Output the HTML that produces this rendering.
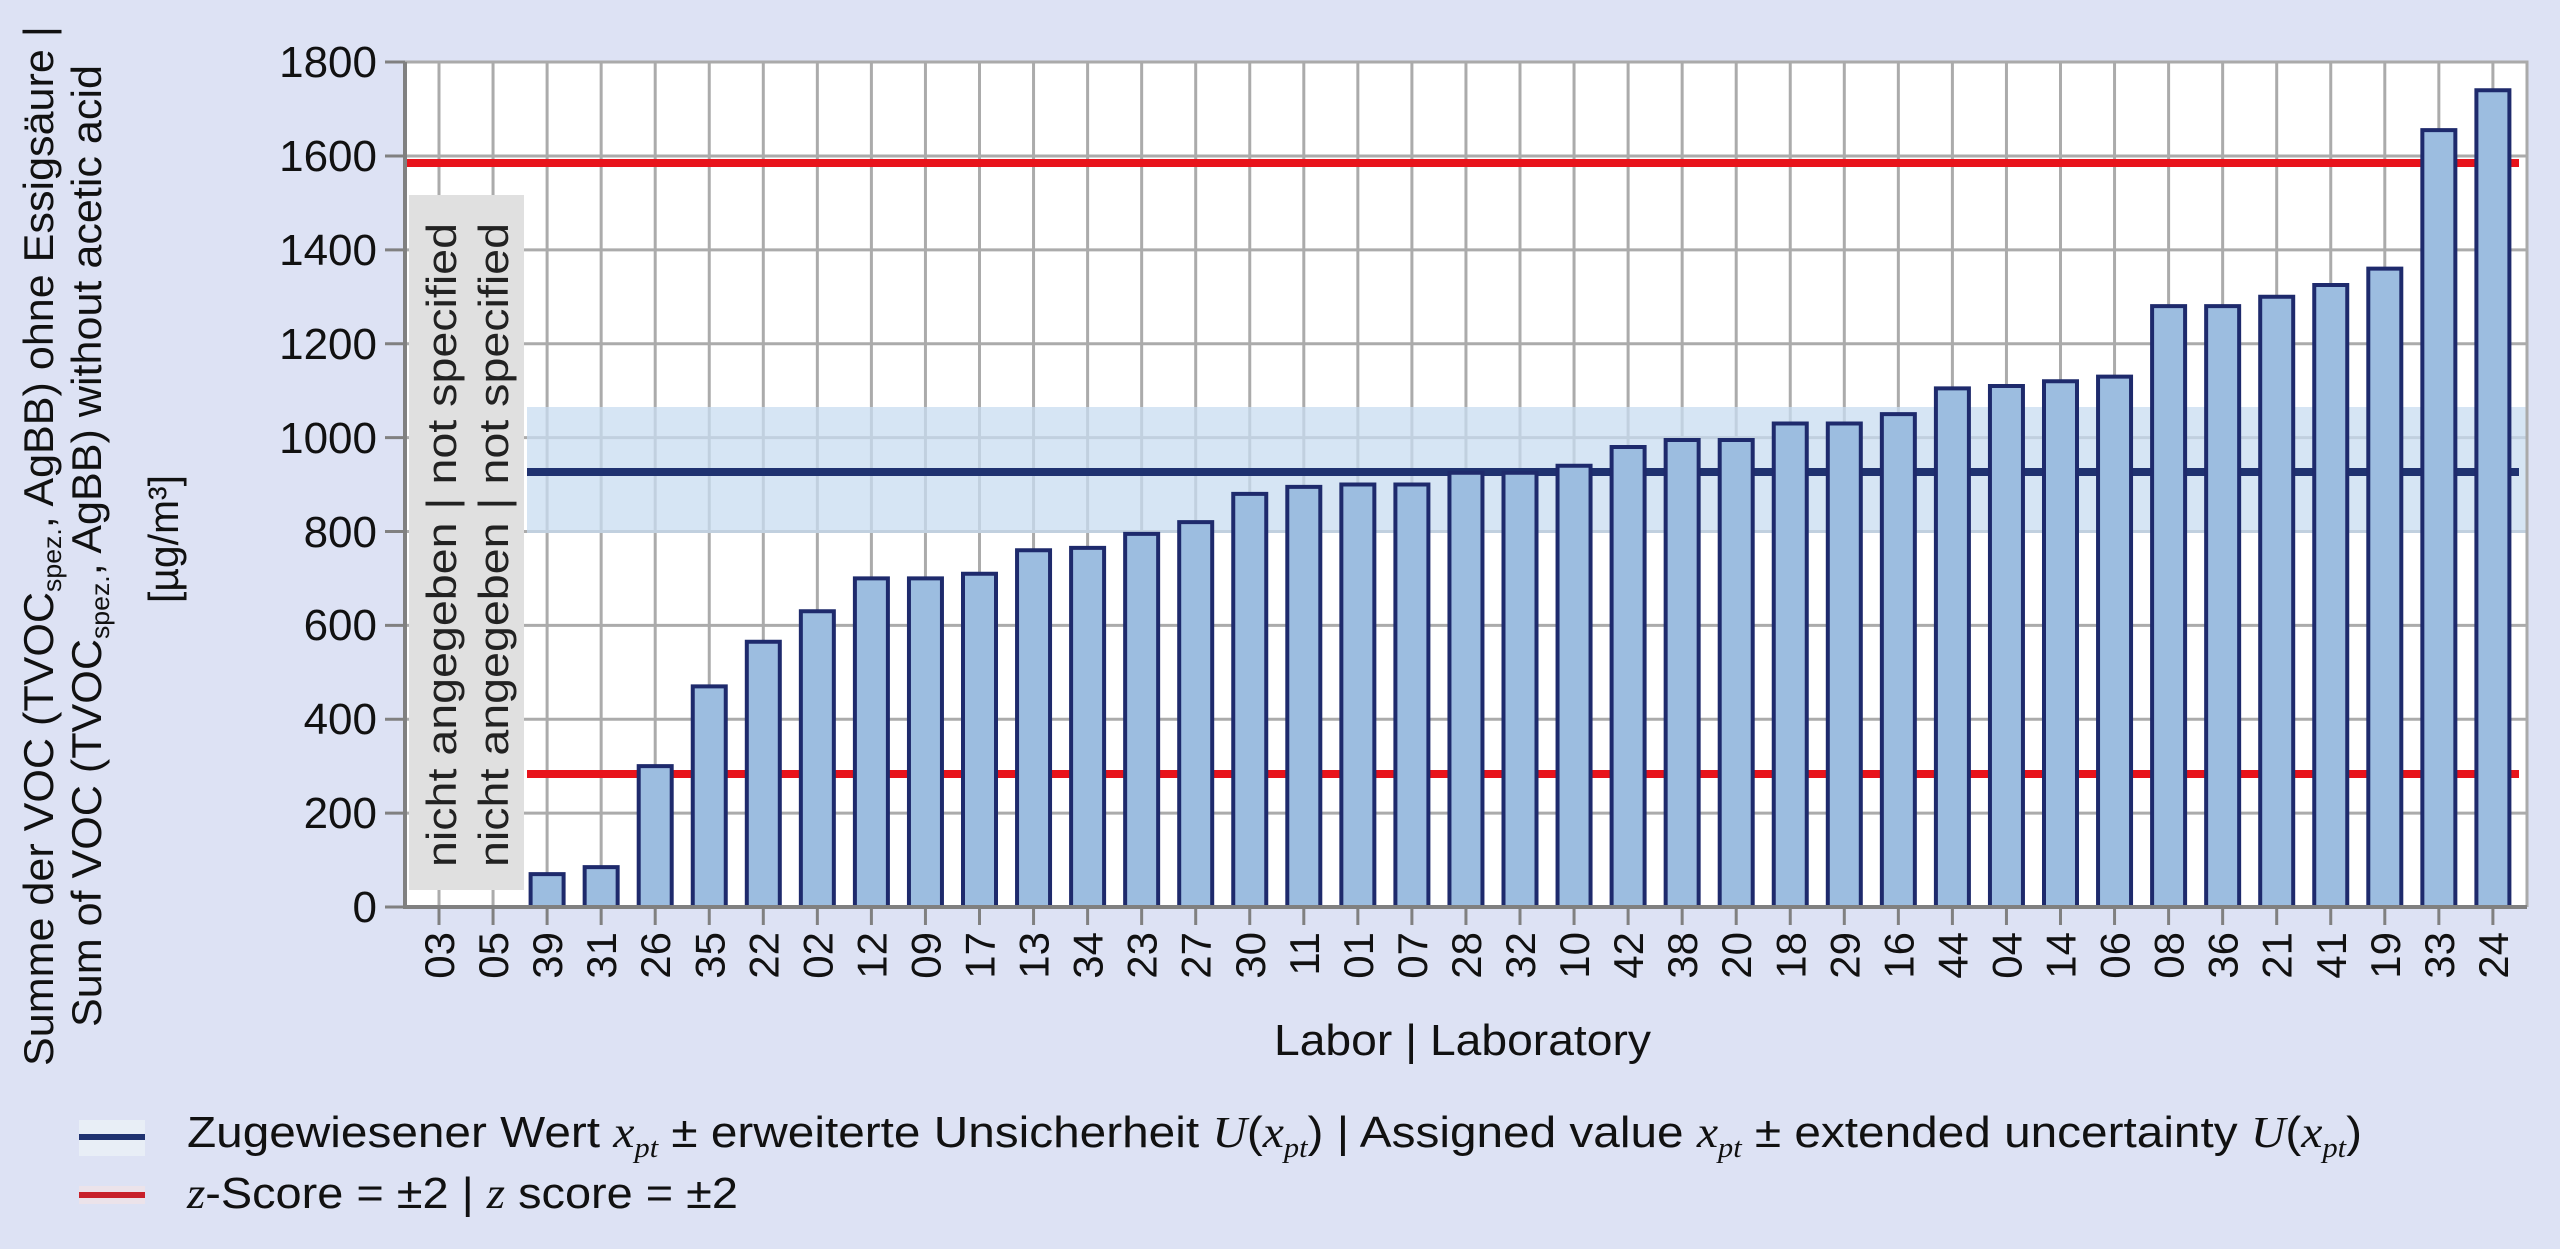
<!DOCTYPE html>
<html><head><meta charset="utf-8"><style>
html,body{margin:0;padding:0;background:#dde2f4;}
svg{display:block;font-family:"Liberation Sans",Arial,sans-serif;}
</style></head><body>
<svg width="2560" height="1249" viewBox="0 0 2560 1249" xmlns="http://www.w3.org/2000/svg">
<rect width="2560" height="1249" fill="#dde2f4"/>
<!-- plot area -->
<rect x="405" y="62" width="2122" height="845" fill="#ffffff"/>
<!-- horizontal grid -->
<path d="M405 813.1H2527M405 719.2H2527M405 625.4H2527M405 531.5H2527M405 437.6H2527M405 343.7H2527M405 249.9H2527M405 156H2527" stroke="#ababab" stroke-width="3"/>
<!-- vertical grid -->
<path stroke="#ababab" stroke-width="3" d="M439 62V907M493.05 62V907M547.1 62V907M601.15 62V907M655.2 62V907M709.25 62V907M763.3 62V907M817.35 62V907M871.4 62V907M925.45 62V907M979.5 62V907M1033.55 62V907M1087.6 62V907M1141.65 62V907M1195.7 62V907M1249.75 62V907M1303.8 62V907M1357.85 62V907M1411.9 62V907M1465.95 62V907M1520 62V907M1574.05 62V907M1628.1 62V907M1682.15 62V907M1736.2 62V907M1790.25 62V907M1844.3 62V907M1898.35 62V907M1952.4 62V907M2006.45 62V907M2060.5 62V907M2114.55 62V907M2168.6 62V907M2222.65 62V907M2276.7 62V907M2330.75 62V907M2384.8 62V907M2438.85 62V907M2492.9 62V907"/>
<!-- uncertainty band -->
<rect x="527" y="407" width="2000" height="126" fill="#c8dcf0" opacity="0.75"/>
<!-- grey box -->
<rect x="409" y="195" width="115" height="695" fill="#e0e0e0"/>
<text transform="translate(456,545) rotate(-90)" text-anchor="middle" font-size="42" fill="#222" textLength="644" lengthAdjust="spacingAndGlyphs">nicht angegeben | not specified</text>
<text transform="translate(508,545) rotate(-90)" text-anchor="middle" font-size="42" fill="#222" textLength="644" lengthAdjust="spacingAndGlyphs">nicht angegeben | not specified</text>
<!-- lines -->
<line x1="405" y1="163" x2="2519" y2="163" stroke="#e8131b" stroke-width="8"/>
<line x1="527" y1="774" x2="2519" y2="774" stroke="#e8131b" stroke-width="8"/>
<line x1="527" y1="472" x2="2519" y2="472" stroke="#1f3270" stroke-width="8"/>
<!-- bars -->
<g fill="#9cbde0" stroke="#1e2a6c" stroke-width="4" transform="translate(0,907) scale(1,-0.4694)">
<rect vector-effect="non-scaling-stroke" x="530.6" y="0" width="33" height="70"/>
<rect vector-effect="non-scaling-stroke" x="584.65" y="0" width="33" height="85"/>
<rect vector-effect="non-scaling-stroke" x="638.7" y="0" width="33" height="300"/>
<rect vector-effect="non-scaling-stroke" x="692.75" y="0" width="33" height="470"/>
<rect vector-effect="non-scaling-stroke" x="746.8" y="0" width="33" height="565"/>
<rect vector-effect="non-scaling-stroke" x="800.85" y="0" width="33" height="630"/>
<rect vector-effect="non-scaling-stroke" x="854.9" y="0" width="33" height="700"/>
<rect vector-effect="non-scaling-stroke" x="908.95" y="0" width="33" height="700"/>
<rect vector-effect="non-scaling-stroke" x="963" y="0" width="33" height="710"/>
<rect vector-effect="non-scaling-stroke" x="1017.05" y="0" width="33" height="760"/>
<rect vector-effect="non-scaling-stroke" x="1071.1" y="0" width="33" height="765"/>
<rect vector-effect="non-scaling-stroke" x="1125.15" y="0" width="33" height="795"/>
<rect vector-effect="non-scaling-stroke" x="1179.2" y="0" width="33" height="820"/>
<rect vector-effect="non-scaling-stroke" x="1233.25" y="0" width="33" height="880"/>
<rect vector-effect="non-scaling-stroke" x="1287.3" y="0" width="33" height="895"/>
<rect vector-effect="non-scaling-stroke" x="1341.35" y="0" width="33" height="900"/>
<rect vector-effect="non-scaling-stroke" x="1395.4" y="0" width="33" height="900"/>
<rect vector-effect="non-scaling-stroke" x="1449.45" y="0" width="33" height="925"/>
<rect vector-effect="non-scaling-stroke" x="1503.5" y="0" width="33" height="925"/>
<rect vector-effect="non-scaling-stroke" x="1557.55" y="0" width="33" height="940"/>
<rect vector-effect="non-scaling-stroke" x="1611.6" y="0" width="33" height="980"/>
<rect vector-effect="non-scaling-stroke" x="1665.65" y="0" width="33" height="995"/>
<rect vector-effect="non-scaling-stroke" x="1719.7" y="0" width="33" height="995"/>
<rect vector-effect="non-scaling-stroke" x="1773.75" y="0" width="33" height="1030"/>
<rect vector-effect="non-scaling-stroke" x="1827.8" y="0" width="33" height="1030"/>
<rect vector-effect="non-scaling-stroke" x="1881.85" y="0" width="33" height="1050"/>
<rect vector-effect="non-scaling-stroke" x="1935.9" y="0" width="33" height="1105"/>
<rect vector-effect="non-scaling-stroke" x="1989.95" y="0" width="33" height="1110"/>
<rect vector-effect="non-scaling-stroke" x="2044" y="0" width="33" height="1120"/>
<rect vector-effect="non-scaling-stroke" x="2098.05" y="0" width="33" height="1130"/>
<rect vector-effect="non-scaling-stroke" x="2152.1" y="0" width="33" height="1280"/>
<rect vector-effect="non-scaling-stroke" x="2206.15" y="0" width="33" height="1280"/>
<rect vector-effect="non-scaling-stroke" x="2260.2" y="0" width="33" height="1300"/>
<rect vector-effect="non-scaling-stroke" x="2314.25" y="0" width="33" height="1325"/>
<rect vector-effect="non-scaling-stroke" x="2368.3" y="0" width="33" height="1360"/>
<rect vector-effect="non-scaling-stroke" x="2422.35" y="0" width="33" height="1655"/>
<rect vector-effect="non-scaling-stroke" x="2476.4" y="0" width="33" height="1740"/>
</g>
<!-- axes frame -->
<path d="M405 62H2527V907" fill="none" stroke="#aaaaaa" stroke-width="3"/>
<path d="M405 62V907H2527" fill="none" stroke="#808080" stroke-width="4"/>
<!-- y ticks -->
<path d="M385 907H405M385 813.1H405M385 719.2H405M385 625.4H405M385 531.5H405M385 437.6H405M385 343.7H405M385 249.9H405M385 156H405M385 62H405" stroke="#808080" stroke-width="3"/>
<g font-size="44" fill="#111" text-anchor="end">
<text x="377" y="922">0</text>
<text x="377" y="828">200</text>
<text x="377" y="734">400</text>
<text x="377" y="640">600</text>
<text x="377" y="547">800</text>
<text x="377" y="653" dy="-200">1000</text>
<text x="377" y="359">1200</text>
<text x="377" y="265">1400</text>
<text x="377" y="171">1600</text>
<text x="377" y="77">1800</text>
</g>
<!-- x ticks -->
<path stroke="#808080" stroke-width="3" d="M439 907V925M493.05 907V925M547.1 907V925M601.15 907V925M655.2 907V925M709.25 907V925M763.3 907V925M817.35 907V925M871.4 907V925M925.45 907V925M979.5 907V925M1033.55 907V925M1087.6 907V925M1141.65 907V925M1195.7 907V925M1249.75 907V925M1303.8 907V925M1357.85 907V925M1411.9 907V925M1465.95 907V925M1520 907V925M1574.05 907V925M1628.1 907V925M1682.15 907V925M1736.2 907V925M1790.25 907V925M1844.3 907V925M1898.35 907V925M1952.4 907V925M2006.45 907V925M2060.5 907V925M2114.55 907V925M2168.6 907V925M2222.65 907V925M2276.7 907V925M2330.75 907V925M2384.8 907V925M2438.85 907V925M2492.9 907V925"/>
<g font-size="42" fill="#111" text-anchor="end">
<text transform="translate(454,932) rotate(-90)">03</text>
<text transform="translate(508.05,932) rotate(-90)">05</text>
<text transform="translate(562.1,932) rotate(-90)">39</text>
<text transform="translate(616.15,932) rotate(-90)">31</text>
<text transform="translate(670.2,932) rotate(-90)">26</text>
<text transform="translate(724.25,932) rotate(-90)">35</text>
<text transform="translate(778.3,932) rotate(-90)">22</text>
<text transform="translate(832.35,932) rotate(-90)">02</text>
<text transform="translate(886.4,932) rotate(-90)">12</text>
<text transform="translate(940.45,932) rotate(-90)">09</text>
<text transform="translate(994.5,932) rotate(-90)">17</text>
<text transform="translate(1048.55,932) rotate(-90)">13</text>
<text transform="translate(1102.6,932) rotate(-90)">34</text>
<text transform="translate(1156.65,932) rotate(-90)">23</text>
<text transform="translate(1210.7,932) rotate(-90)">27</text>
<text transform="translate(1264.75,932) rotate(-90)">30</text>
<text transform="translate(1318.8,932) rotate(-90)">11</text>
<text transform="translate(1372.85,932) rotate(-90)">01</text>
<text transform="translate(1426.9,932) rotate(-90)">07</text>
<text transform="translate(1480.95,932) rotate(-90)">28</text>
<text transform="translate(1535,932) rotate(-90)">32</text>
<text transform="translate(1589.05,932) rotate(-90)">10</text>
<text transform="translate(1643.1,932) rotate(-90)">42</text>
<text transform="translate(1697.15,932) rotate(-90)">38</text>
<text transform="translate(1751.2,932) rotate(-90)">20</text>
<text transform="translate(1805.25,932) rotate(-90)">18</text>
<text transform="translate(1859.3,932) rotate(-90)">29</text>
<text transform="translate(1913.35,932) rotate(-90)">16</text>
<text transform="translate(1967.4,932) rotate(-90)">44</text>
<text transform="translate(2021.45,932) rotate(-90)">04</text>
<text transform="translate(2075.5,932) rotate(-90)">14</text>
<text transform="translate(2129.55,932) rotate(-90)">06</text>
<text transform="translate(2183.6,932) rotate(-90)">08</text>
<text transform="translate(2237.65,932) rotate(-90)">36</text>
<text transform="translate(2291.7,932) rotate(-90)">21</text>
<text transform="translate(2345.75,932) rotate(-90)">41</text>
<text transform="translate(2399.8,932) rotate(-90)">19</text>
<text transform="translate(2453.85,932) rotate(-90)">33</text>
<text transform="translate(2507.9,932) rotate(-90)">24</text>
</g>
<!-- x title -->
<text x="1274" y="1055" font-size="44" fill="#111" textLength="377" lengthAdjust="spacingAndGlyphs">Labor | Laboratory</text>
<!-- y title -->
<g font-size="42" fill="#111" text-anchor="middle">
<text transform="translate(53,546) rotate(-90)" textLength="1040" lengthAdjust="spacingAndGlyphs">Summe der VOC (TVOC<tspan font-size="26" dy="8">spez.</tspan><tspan dy="-8">, AgBB) ohne Essigsäure |</tspan></text>
<text transform="translate(101,546) rotate(-90)" textLength="962" lengthAdjust="spacingAndGlyphs">Sum of VOC (TVOC<tspan font-size="26" dy="8">spez.</tspan><tspan dy="-8">, AgBB) without acetic acid</tspan></text>
<text transform="translate(178,539) rotate(-90)" textLength="128" lengthAdjust="spacingAndGlyphs">[µg/m³]</text>
</g>
<!-- legend -->
<rect x="79" y="1120" width="66" height="36" fill="#e8eef6"/>
<line x1="79" y1="1137" x2="145" y2="1137" stroke="#1f3270" stroke-width="6"/>
<rect x="79" y="1186" width="66" height="18" fill="#ece3ea"/>
<line x1="79" y1="1195" x2="145" y2="1195" stroke="#c8202a" stroke-width="6"/>
<text x="187" y="1147" font-size="44" fill="#111" textLength="2175" lengthAdjust="spacingAndGlyphs">Zugewiesener Wert <tspan font-family="Liberation Serif,serif" font-style="italic">x</tspan><tspan font-family="Liberation Serif,serif" font-style="italic" font-size="28" dy="10">pt</tspan><tspan dy="-10"> ± erweiterte Unsicherheit </tspan><tspan font-family="Liberation Serif,serif" font-style="italic">U</tspan>(<tspan font-family="Liberation Serif,serif" font-style="italic">x</tspan><tspan font-family="Liberation Serif,serif" font-style="italic" font-size="28" dy="10">pt</tspan><tspan dy="-10">) | Assigned value </tspan><tspan font-family="Liberation Serif,serif" font-style="italic">x</tspan><tspan font-family="Liberation Serif,serif" font-style="italic" font-size="28" dy="10">pt</tspan><tspan dy="-10"> ± extended uncertainty </tspan><tspan font-family="Liberation Serif,serif" font-style="italic">U</tspan>(<tspan font-family="Liberation Serif,serif" font-style="italic">x</tspan><tspan font-family="Liberation Serif,serif" font-style="italic" font-size="28" dy="10">pt</tspan><tspan dy="-10">)</tspan></text>
<text x="187" y="1208" font-size="44" fill="#111" textLength="551" lengthAdjust="spacingAndGlyphs"><tspan font-family="Liberation Serif,serif" font-style="italic">z</tspan>-Score = ±2 | <tspan font-family="Liberation Serif,serif" font-style="italic">z</tspan> score = ±2</text>
</svg>
</body></html>
